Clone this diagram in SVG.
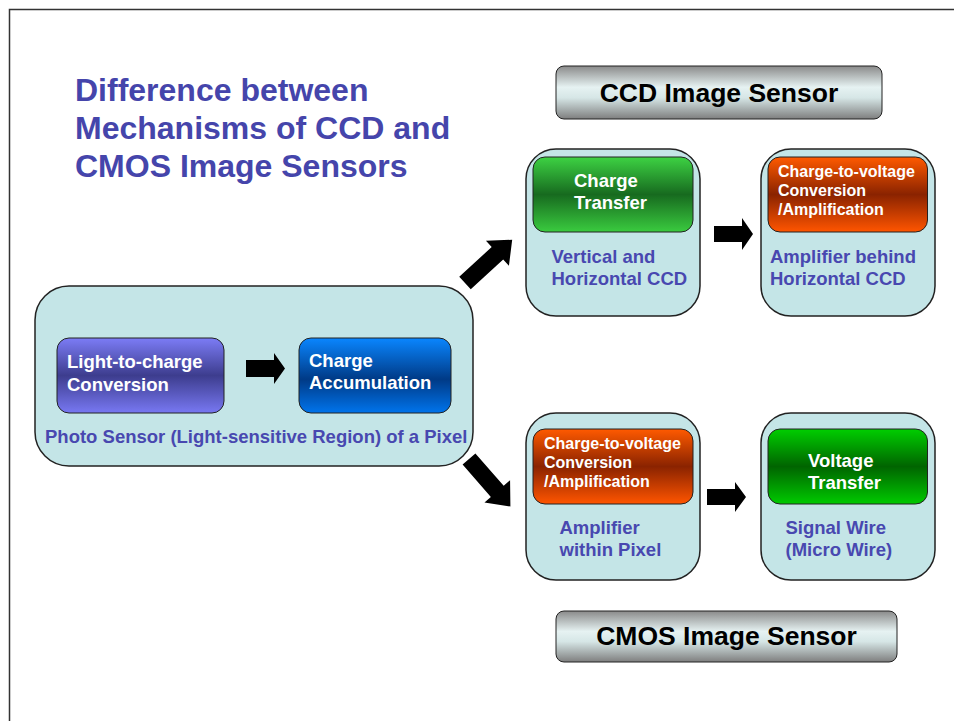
<svg xmlns="http://www.w3.org/2000/svg" width="954" height="721" viewBox="0 0 954 721">
<defs>
<linearGradient id="gPurple" x1="0" y1="0" x2="0" y2="1">
<stop offset="0" stop-color="#7C7CF6"/><stop offset="0.5" stop-color="#3D3D8E"/><stop offset="1" stop-color="#7878F2"/>
</linearGradient>
<linearGradient id="gBlue" x1="0" y1="0" x2="0" y2="1">
<stop offset="0" stop-color="#0A86FF"/><stop offset="0.55" stop-color="#003A86"/><stop offset="1" stop-color="#0074EC"/>
</linearGradient>
<linearGradient id="gGreen1" x1="0" y1="0" x2="0" y2="1">
<stop offset="0" stop-color="#3DD243"/><stop offset="0.5" stop-color="#176A1F"/><stop offset="1" stop-color="#3ACB3F"/>
</linearGradient>
<linearGradient id="gGreen2" x1="0" y1="0" x2="0" y2="1">
<stop offset="0" stop-color="#00CE00"/><stop offset="0.5" stop-color="#006400"/><stop offset="1" stop-color="#00CA00"/>
</linearGradient>
<linearGradient id="gOrange" x1="0" y1="0" x2="0" y2="1">
<stop offset="0" stop-color="#FF5A00"/><stop offset="0.5" stop-color="#8A2300"/><stop offset="1" stop-color="#FF5500"/>
</linearGradient>
<linearGradient id="gGray" x1="0" y1="0" x2="0" y2="1">
<stop offset="0" stop-color="#8A8A8A"/><stop offset="0.4" stop-color="#E6F2F2"/><stop offset="0.6" stop-color="#D6E6E6"/><stop offset="1" stop-color="#7E7E7E"/>
</linearGradient>
</defs>
<style>
.f{font-family:"Liberation Sans",Arial,sans-serif;font-weight:bold;}
.title{fill:#4545AB;font-size:32px;}
.panel{fill:#C4E5E7;stroke:#222;stroke-width:1.5;}
.box{stroke:#222;stroke-width:1;}
.wt{fill:#fff;font-size:18.5px;}
.wt2{fill:#fff;font-size:16px;}
.lbl{fill:#4848B0;font-size:18.5px;}
.hdr{fill:#000;font-size:26.5px;}
.arrow{fill:#000;}
</style>
<rect width="954" height="721" fill="#fff"/>
<path d="M9.5,721 V9.5 H954" fill="none" stroke="#333" stroke-width="1.5"/>

<g id="title">
<text class="f title" x="75" y="101">Difference between</text>
<text class="f title" x="75" y="139">Mechanisms of CCD and</text>
<text class="f title" x="75" y="177">CMOS Image Sensors</text>
</g>

<g id="ccd-header">
<rect x="556" y="66" width="326" height="53" rx="8" fill="url(#gGray)" stroke="#222" stroke-width="1"/>
<text class="f hdr" x="719" y="102" text-anchor="middle">CCD Image Sensor</text>
</g>

<g id="cmos-header">
<rect x="556" y="611" width="341" height="51" rx="8" fill="url(#gGray)" stroke="#222" stroke-width="1"/>
<text class="f hdr" x="726.5" y="645" text-anchor="middle">CMOS Image Sensor</text>
</g>

<g id="photo-sensor">
<rect class="panel" x="35" y="286" width="438" height="180" rx="34"/>
<text class="f lbl" x="45" y="443">Photo Sensor (Light-sensitive Region) of a Pixel</text>
</g>

<g id="light-to-charge">
<rect class="box" x="57" y="338" width="167" height="75" rx="12" fill="url(#gPurple)"/>
<text class="f wt" x="67" y="368">Light-to-charge</text>
<text class="f wt" x="67" y="391">Conversion</text>
</g>

<g id="charge-accumulation">
<rect class="box" x="299" y="338" width="152" height="75" rx="12" fill="url(#gBlue)"/>
<text class="f wt" x="309" y="367">Charge</text>
<text class="f wt" x="309" y="389">Accumulation</text>
</g>

<g id="ccd-transfer">
<rect class="panel" x="526" y="149" width="174" height="167" rx="30"/>
<rect class="box" x="533" y="157" width="160" height="75" rx="12" fill="url(#gGreen1)"/>
<text class="f wt" x="574" y="187">Charge</text>
<text class="f wt" x="574" y="208.5">Transfer</text>
<text class="f lbl" x="551.5" y="262.5">Vertical and</text>
<text class="f lbl" x="551.5" y="284.5">Horizontal CCD</text>
</g>

<g id="ccd-amplifier">
<rect class="panel" x="761" y="149" width="174" height="167" rx="30"/>
<rect class="box" x="768" y="157" width="159.5" height="75" rx="12" fill="url(#gOrange)"/>
<text class="f wt2" x="778" y="177">Charge-to-voltage</text>
<text class="f wt2" x="778" y="196">Conversion</text>
<text class="f wt2" x="778" y="215">/Amplification</text>
<text class="f lbl" x="770" y="262.5">Amplifier behind</text>
<text class="f lbl" x="770" y="284.5">Horizontal CCD</text>
</g>

<g id="cmos-amplifier">
<rect class="panel" x="526" y="413" width="174" height="167" rx="30"/>
<rect class="box" x="533" y="429" width="160" height="75" rx="12" fill="url(#gOrange)"/>
<text class="f wt2" x="544" y="449">Charge-to-voltage</text>
<text class="f wt2" x="544" y="468">Conversion</text>
<text class="f wt2" x="544" y="487">/Amplification</text>
<text class="f lbl" x="559.5" y="534">Amplifier</text>
<text class="f lbl" x="559.5" y="556">within Pixel</text>
</g>

<g id="cmos-voltage-transfer">
<rect class="panel" x="761" y="413" width="174" height="167" rx="30"/>
<rect class="box" x="768" y="429" width="159.5" height="75" rx="12" fill="url(#gGreen2)"/>
<text class="f wt" x="808" y="467">Voltage</text>
<text class="f wt" x="808" y="488.5">Transfer</text>
<text class="f lbl" x="785.5" y="534">Signal Wire</text>
<text class="f lbl" x="785.5" y="556">(Micro Wire)</text>
</g>

<g id="connectors">
<polygon class="arrow" points="246,360 274,360 274,353 285,368.5 274,384 274,377 246,377"/>
<polygon class="arrow" points="714,226 742,226 742,218 753,234 742,250 742,242 714,242"/>
<polygon class="arrow" points="707,489 735,489 735,482 746,497 735,512 735,505 707,505"/>
<polygon class="arrow" transform="translate(465,283) rotate(-42.5)" points="0,-8.5 44,-8.5 44,-17 64,0 44,17 44,8.5 0,8.5"/>
<polygon class="arrow" transform="translate(469,459) rotate(48.9)" points="0,-8.5 43,-8.5 43,-17 63,0 43,17 43,8.5 0,8.5"/>
</g>
</svg>
